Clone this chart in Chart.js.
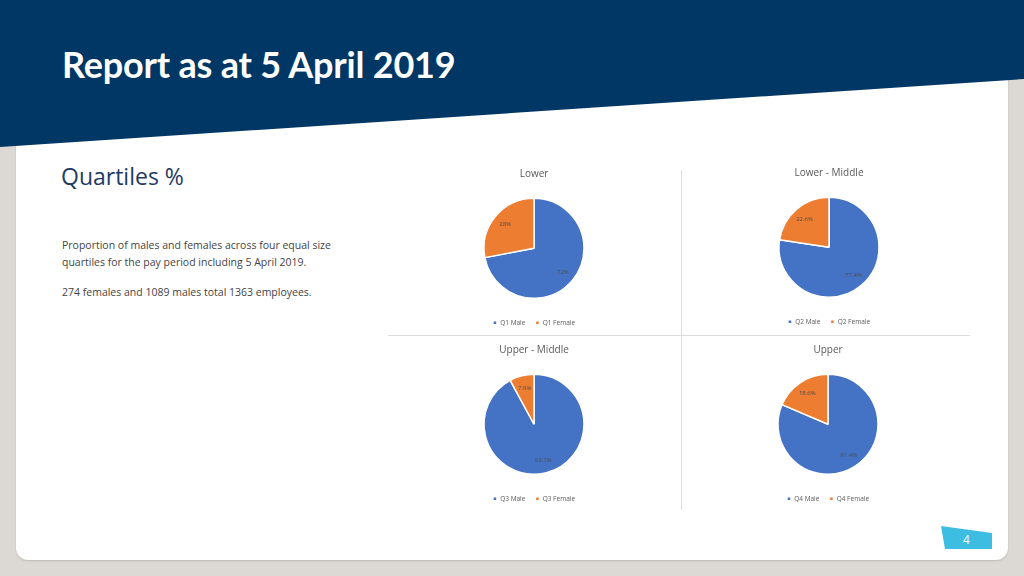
<!DOCTYPE html>
<html>
<head>
<meta charset="utf-8">
<script src="https://cdn.jsdelivr.net/npm/chart.js@4.4.1/dist/chart.umd.min.js"></script>
<style>
    html, body { margin: 0; padding: 0; }
    body {
        width: 1024px; height: 576px; overflow: hidden;
        background: #dcd9d5; position: relative;
        font-family: 'Open Sans', 'Noto Sans', sans-serif;
    }
    .card {
        position: absolute; left: 16px; top: 40px; width: 992px; height: 520px;
        background: #fff; border-radius: 0 0 12px 12px;
        box-shadow: 0 1px 2px rgba(0,0,0,0.15);
    }
    .header {
        position: absolute; left: 0; top: 0; width: 1024px; height: 150px;
        background: #003764;
        clip-path: polygon(0 0, 100% 0, 100% 79px, 0 147px);
    }
    .title {
        position: absolute; left: 62px; top: 46px; margin: 0;
        color: #fff; font-family: Lato, sans-serif; font-weight: bold;
        font-size: 36px; line-height: 36px; letter-spacing: -0.2px;
    }
    .subtitle {
        position: absolute; left: 61px; top: 160px; margin: 0;
        color: #1f3b64; font-size: 23px; font-weight: normal;
    }
    .para {
        position: absolute; left: 62px; top: 237px; width: 292px;
        color: #444; font-size: 10.5px; line-height: 17px;
    }
    .para p { margin: 0 0 13px 0; }
    .vline { position: absolute; left: 681px; top: 170px; width: 1px; height: 340px; background: #dcdcdc; }
    .hline { position: absolute; left: 388px; top: 335px; width: 582px; height: 1px; background: #dcdcdc; }
    .pie { position: absolute; width: 200px; height: 173px; }
    .badge {
        position: absolute; left: 941px; top: 526px; width: 51px; height: 23px;
        background: #3dbde2; clip-path: polygon(0 0, 100% 7px, 100% 100%, 4px 100%);
        color: #fff; font-size: 12px; text-align: center; line-height: 27px;
    }
</style>
</head>
<body>
<div class="card"></div>
<div class="header"></div>
<h1 class="title">Report as at 5 April 2019</h1>
<h2 class="subtitle">Quartiles %</h2>
<div class="para">
    <p>Proportion of males and females across four equal size quartiles for the pay period including 5 April 2019.</p>
    <p>274 females and 1089 males total 1363 employees.</p>
</div>
<div class="vline"></div>
<div class="hline"></div>

<div class="pie" style="left:434px; top:163px;"><canvas id="q1"></canvas></div>
<div class="pie" style="left:729px; top:162px;"><canvas id="q2"></canvas></div>
<div class="pie" style="left:434px; top:339px;"><canvas id="q3"></canvas></div>
<div class="pie" style="left:728px; top:339px;"><canvas id="q4"></canvas></div>

<div class="badge">4</div>

<script>
    // Quartile data (percent)
    const quartileTitles = ['Lower', 'Lower - Middle', 'Upper - Middle', 'Upper'];
    const quartileKeys = ['Q1', 'Q2', 'Q3', 'Q4'];
    const maleValues = [72, 77.4, 92.1, 81.4];
    const femaleValues = [28, 22.6, 7.9, 18.6];
    const labelText = [
        ['72%', '28%'],
        ['77.4%', '22.6%'],
        ['92.1%', '7.9%'],
        ['81.4%', '18.6%']
    ];

    const blue = '#4472c4';
    const orange = '#ed7d31';

    // Small data label plugin, drawn at each arc's bisector
    const sliceLabels = {
        id: 'sliceLabels',
        afterDatasetsDraw(chart, args, opts) {
            const ctx = chart.ctx;
            const meta = chart.getDatasetMeta(0);
            ctx.save();
            ctx.font = '6px "Open Sans", sans-serif';
            ctx.fillStyle = '#505050';
            ctx.textAlign = 'center';
            ctx.textBaseline = 'middle';
            meta.data.forEach((arc, i) => {
                const p = arc.getProps(['x', 'y', 'startAngle', 'endAngle', 'outerRadius']);
                const mid = (p.startAngle + p.endAngle) / 2;
                const r = p.outerRadius * 0.75;
                ctx.fillText(opts.texts[i], p.x + Math.cos(mid) * r, p.y + Math.sin(mid) * r);
            });
            ctx.restore();
        }
    };

    quartileTitles.forEach((title, i) => {
        const key = quartileKeys[i];
        new Chart(document.getElementById('q' + (i + 1)), {
            type: 'pie',
            data: {
                labels: [key + ' Male', key + ' Female'],
                datasets: [{
                    data: [maleValues[i], femaleValues[i]],
                    backgroundColor: [blue, orange],
                    borderColor: '#ffffff',
                    borderWidth: 1.5
                }]
            },
            options: {
                responsive: true,
                maintainAspectRatio: false,
                animation: false,
                radius: 50,
                layout: { padding: 0 },
                plugins: {
                    title: {
                        display: true,
                        text: title,
                        color: '#595959',
                        font: { size: 10, family: "'Open Sans', sans-serif", weight: 'normal' },
                        padding: { top: 5, bottom: 7 }
                    },
                    legend: {
                        position: 'bottom',
                        labels: {
                            color: '#595959',
                            font: { size: 6.5, family: "'Open Sans', sans-serif" },
                            usePointStyle: true,
                            pointStyle: 'rect',
                            boxWidth: 4,
                            boxHeight: 4,
                            padding: 10
                        }
                    },
                    tooltip: { enabled: false },
                    sliceLabels: { texts: labelText[i] }
                }
            },
            plugins: [sliceLabels]
        });
    });
</script>
</body>
</html>
